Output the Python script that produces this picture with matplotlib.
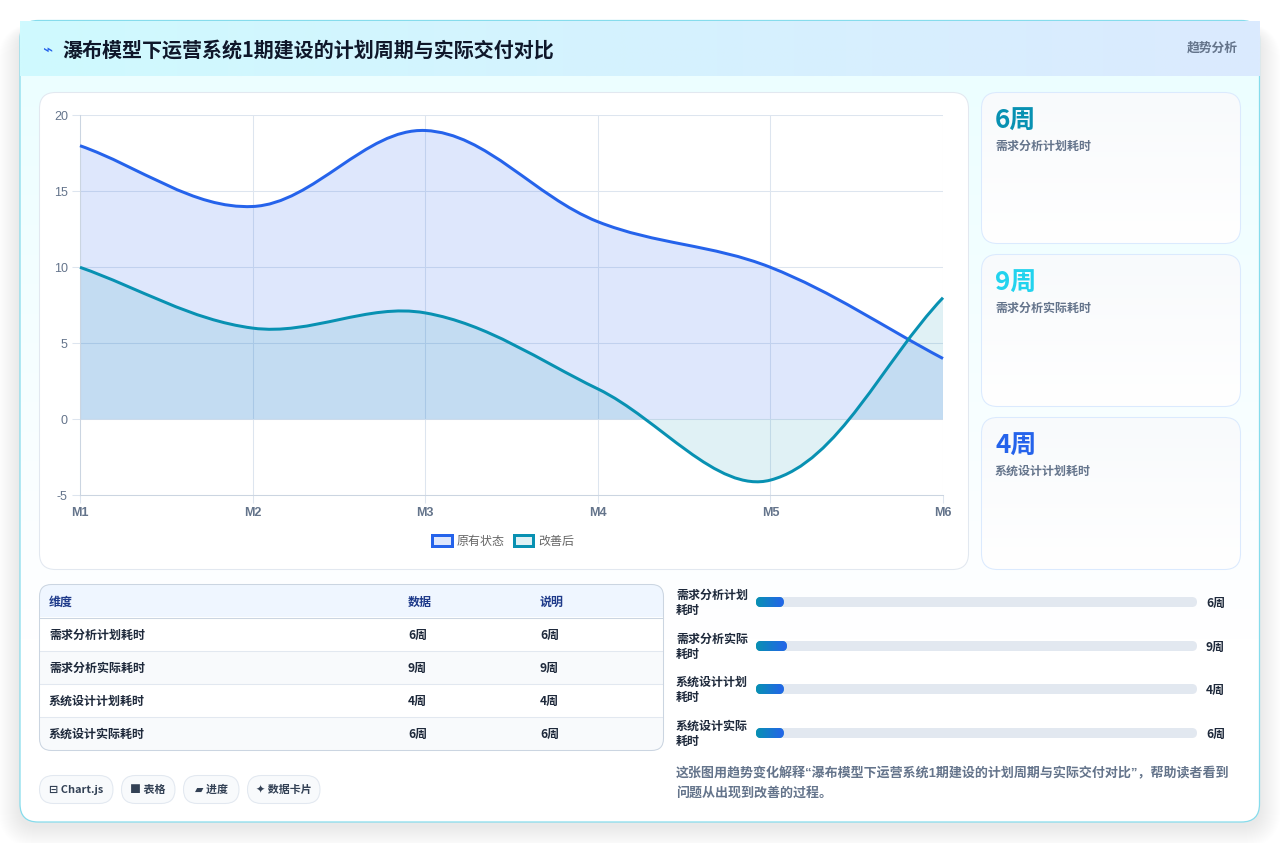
import matplotlib

matplotlib.use("Agg")
import matplotlib.pyplot as plt
import numpy as np
from matplotlib.patches import FancyBboxPatch, PathPatch, Patch, Rectangle
from matplotlib.path import Path

months = ["M1", "M2", "M3", "M4", "M5", "M6"]
before_values = [18, 14, 19, 13, 10, 4]
after_values = [10, 6, 7, 2, -4, 8]
series_names = ["原有状态", "改善后"]

title = "瀑布模型下运营系统1期建设的计划周期与实际交付对比"
badge = "趋势分析"

stat_values = ["6周", "9周", "4周"]
stat_labels = ["需求分析计划耗时", "需求分析实际耗时", "系统设计计划耗时"]

table_head = ["维度", "数据", "说明"]
table_names = ["需求分析计划耗时", "需求分析实际耗时", "系统设计计划耗时", "系统设计实际耗时"]
table_data = ["6周", "9周", "4周", "6周"]
table_note = ["6周", "9周", "4周", "6周"]

progress_names = [("需求分析计划", "耗时"), ("需求分析实际", "耗时"), ("系统设计计划", "耗时"), ("系统设计实际", "耗时")]
progress_share = [6.3, 7.0, 6.3, 6.3]  # percent of the track
progress_text = ["6周", "9周", "4周", "6周"]

tags = ["⊟ Chart.js", "■ 表格", "▰ 进度", "✦ 数据卡片"]
summary = [
    "这张图用趋势变化解释“瀑布模型下运营系统1期建设的计划周期与实际交付对比”，帮助读者看到",
    "问题从出现到改善的过程。",
]

BLUE = "#2563eb"
TEAL = "#0891b2"
CJK = ["Noto Sans CJK SC", "DejaVu Sans"]
NARROW_PUNCT = ["Liberation Sans", "Noto Sans CJK SC"]  # narrow quotes in running text
PX = 0.72  # points per pixel at dpi 100

plt.rcParams["font.family"] = CJK
plt.rcParams["axes.unicode_minus"] = False

fig = plt.figure(figsize=(12.8, 8.43), dpi=100, facecolor="white")
bg = fig.add_axes([0, 0, 1, 1])
bg.axis("off")


def rgb(hex_color):
    return np.array(matplotlib.colors.to_rgb(hex_color))


def box(x0, y0, x1, y1, r, fc="white", ec="none", lw=0.75, z=2, alpha=None):
    patch = FancyBboxPatch(
        (x0, y0), x1 - x0, y1 - y0,
        boxstyle=f"round,pad=0,rounding_size={r}",
        fc=fc, ec=ec, lw=lw, zorder=z, alpha=alpha,
    )
    bg.add_patch(patch)
    return patch


def gradient(x0, y0, x1, y1, c0, c1, horizontal=False, clip=None, z=2):
    steps = np.linspace(0, 1, 256)[:, None]
    colors = rgb(c0) * (1 - steps) + rgb(c1) * steps
    img = colors[None, :, :] if horizontal else colors[:, None, :]
    im = bg.imshow(img, extent=(x0, x1, y1, y0), aspect="auto", zorder=z, interpolation="bilinear")
    if clip is not None:
        im.set_clip_path(clip)
    return im


def label(x, y, s, size, color, weight="bold", ha="left", z=6, family=None):
    bg.text(x, y, s, fontsize=size * PX, color=color, fontweight=weight, ha=ha, va="center",
            zorder=z, family=family or CJK)


# soft shadow under the main card
for spread in range(1, 23):
    box(20 - spread, 32 - spread * 0.4, 1259 + spread, 826 + spread, 18 + spread,
        fc="#475569", z=1, alpha=0.0035)

card = box(20, 20.5, 1259.5, 822, 18, fc="white", z=2)
gradient(20, 76, 1260, 640, "#ecfeff", "#ffffff", clip=card, z=2.1)
box(20, 20.5, 1259.5, 822, 18, fc="none", ec="#86dcec", lw=0.9, z=2.3)
gradient(20, 21, 1260, 76, "#cffafe", "#dbeafe", horizontal=True, z=2.4)

bg.text(47, 50, "⌁", fontsize=17 * PX, color=BLUE, ha="center", va="center", zorder=6, family="DejaVu Sans")
label(62, 50.5, title, 20, "#0f172a")
label(1238, 48.5, badge, 12.8, "#64748b", ha="right")

# chart panel and the three stat cards
box(39.5, 92.5, 968.5, 569.5, 16, fc="white", ec="#e2e8f0", z=2.5)
stat_boxes = [(92.5, 243.5), (254.5, 406.5), (417.5, 569.5)]
stat_colors = [TEAL, "#22d3ee", BLUE]
for (top, bottom), value, text, color in zip(stat_boxes, stat_values, stat_labels, stat_colors):
    panel = box(981.5, top, 1240.5, bottom, 16, fc="white", z=2.5)
    gradient(981, top, 1241, bottom, "#f8fafc", "#ffffff", clip=panel, z=2.6)
    box(981.5, top, 1240.5, bottom, 16, fc="none", ec="#dbeafe", z=2.7)
    label(995, top + 29, value, 26, color)
    label(995, top + 53.5, text, 12, "#64748b")

# table
frame = box(39.5, 584.5, 663.5, 750.5, 12, fc="white", ec="none", z=3)
col_x = [49, 408, 540]
bg.add_patch(Rectangle((39, 584), 625, 33, fc="#eff6ff", ec="none", zorder=3.1, clip_path=frame))
for x, head in zip(col_x, table_head):
    label(x, 602, head, 12, "#1e3a8a")
row_tops = 617.5 + 33 * np.arange(len(table_names))
for i, (top, name, data, note) in enumerate(zip(row_tops, table_names, table_data, table_note)):
    if i % 2:
        bg.add_patch(Rectangle((39, top), 625, 33, fc="#f8fafc", ec="none", zorder=3.1, clip_path=frame))
    bg.plot([40, 663], [top, top], color="#cbd5e1" if i == 0 else "#e2e8f0", lw=0.75, zorder=3.2)
    for x, s in zip(col_x, (name, data, note)):
        label(x, top + 17.5, s, 12, "#1e293b")
box(39.5, 584.5, 663.5, 750.5, 12, fc="none", ec="#cbd5e1", z=3.3)

# progress rows
track_x0, track_x1 = 756, 1197
row_y = [602, 646, 689, 733]
for y, (line1, line2), share, text in zip(row_y, progress_names, progress_share, progress_text):
    label(676, y - 7, line1, 12, "#1e293b")
    label(676, y + 8.5, line2, 12, "#1e293b")
    box(track_x0, y - 5, track_x1, y + 5, 5, fc="#e2e8f0", z=3)
    fill_x1 = track_x0 + (track_x1 - track_x0) * share / 100
    fill = box(track_x0, y - 5, fill_x1, y + 5, 5, fc=TEAL, z=3.1)
    gradient(track_x0, y - 5, fill_x1, y + 5, TEAL, BLUE, horizontal=True, clip=fill, z=3.2)
    label(1206, y + 1, text, 12, "#1e293b")

# tag pills
pill_x = [(39.5, 113), (121.5, 175), (183.5, 239), (247.5, 320)]
for (x0, x1), tag in zip(pill_x, tags):
    box(x0, 775.5, x1, 803.5, 14, fc="#f8fafc", ec="#e2e8f0", z=3)
    label((x0 + x1) / 2, 790, tag, 11, "#334155", ha="center")

for i, line in enumerate(summary):
    label(676, 773.5 + 20 * i, line, 13, "#64748b", family=NARROW_PUNCT)

bg.set_xlim(0, 1280)
bg.set_ylim(843, 0)

# line chart
ax = fig.add_axes([80 / 1280, 1 - 495.3 / 843, 863 / 1280, 380 / 843], zorder=5)
ax.patch.set_alpha(0)
ax.set_xlim(0, len(months) - 1)
ax.set_ylim(-5, 20)
ax.set_xticks(range(len(months)), months)
ax.set_yticks([-5, 0, 5, 10, 15, 20])
ax.grid(True, color="#dde5ef", lw=0.75)
ax.set_axisbelow(True)
ax.tick_params(axis="both", length=8 * PX, width=0.75, color="#dde5ef", labelcolor="#64748b", labelsize=12.5 * PX)
ax.tick_params(axis="x", pad=3)
ax.tick_params(axis="y", pad=3)
for tick in ax.get_xticklabels():
    tick.set_family("Liberation Sans")
    tick.set_fontweight("bold")
for tick in ax.get_yticklabels():
    tick.set_family("Liberation Sans")
for side in ("top", "right"):
    ax.spines[side].set_visible(False)
for side in ("left", "bottom"):
    ax.spines[side].set_color("#cbd5e1")
    ax.spines[side].set_linewidth(0.75)


def smooth_path(values, tension=0.35):
    """Cubic path through the points, with control points set in screen space."""
    pts = ax.transData.transform(np.column_stack([np.arange(len(values)), values]))
    n = len(pts)
    verts = [pts[0]]
    handles_out, handles_in = [], []
    for i in range(n):
        prev_pt = pts[max(i - 1, 0)]
        next_pt = pts[min(i + 1, n - 1)]
        d01 = np.hypot(*(pts[i] - prev_pt))
        d12 = np.hypot(*(next_pt - pts[i]))
        total = d01 + d12
        delta = next_pt - prev_pt
        handles_in.append(pts[i] - tension * d01 / total * delta)
        handles_out.append(pts[i] + tension * d12 / total * delta)
    codes = [Path.MOVETO]
    for i in range(n - 1):
        verts += [handles_out[i], handles_in[i + 1], pts[i + 1]]
        codes += [Path.CURVE4] * 3
    to_data = ax.transData.inverted()
    return to_data.transform(np.array(verts)), codes


for values, color, fill_alpha in ((before_values, BLUE, 0.15), (after_values, TEAL, 0.125)):
    verts, codes = smooth_path(values)
    closed = np.vstack([verts, [[verts[-1, 0], 0], [verts[0, 0], 0], verts[0]]])
    ax.add_patch(PathPatch(Path(closed, codes + [Path.LINETO, Path.LINETO, Path.CLOSEPOLY]),
                           fc=color, ec="none", alpha=fill_alpha, zorder=2))
for values, color in ((before_values, BLUE), (after_values, TEAL)):
    verts, codes = smooth_path(values)
    ax.add_patch(PathPatch(Path(verts, codes), fc="none", ec=color, lw=3 * PX, zorder=3, clip_on=False))

legend_handles = [
    Patch(facecolor=matplotlib.colors.to_rgba(c, a), edgecolor=c, linewidth=3 * PX, label=name)
    for c, a, name in zip((BLUE, TEAL), (0.15, 0.125), series_names)
]
ax.legend(
    handles=legend_handles, loc="center", bbox_to_anchor=(0.4907, -0.1205), ncol=2, frameon=False,
    fontsize=12 * PX, labelcolor="#666666", handlelength=1.6, handleheight=1.0,
    handletextpad=0.45, columnspacing=0.75, borderpad=0,
)

fig.savefig("out.png", dpi=100, facecolor="white")
plt.close(fig)
